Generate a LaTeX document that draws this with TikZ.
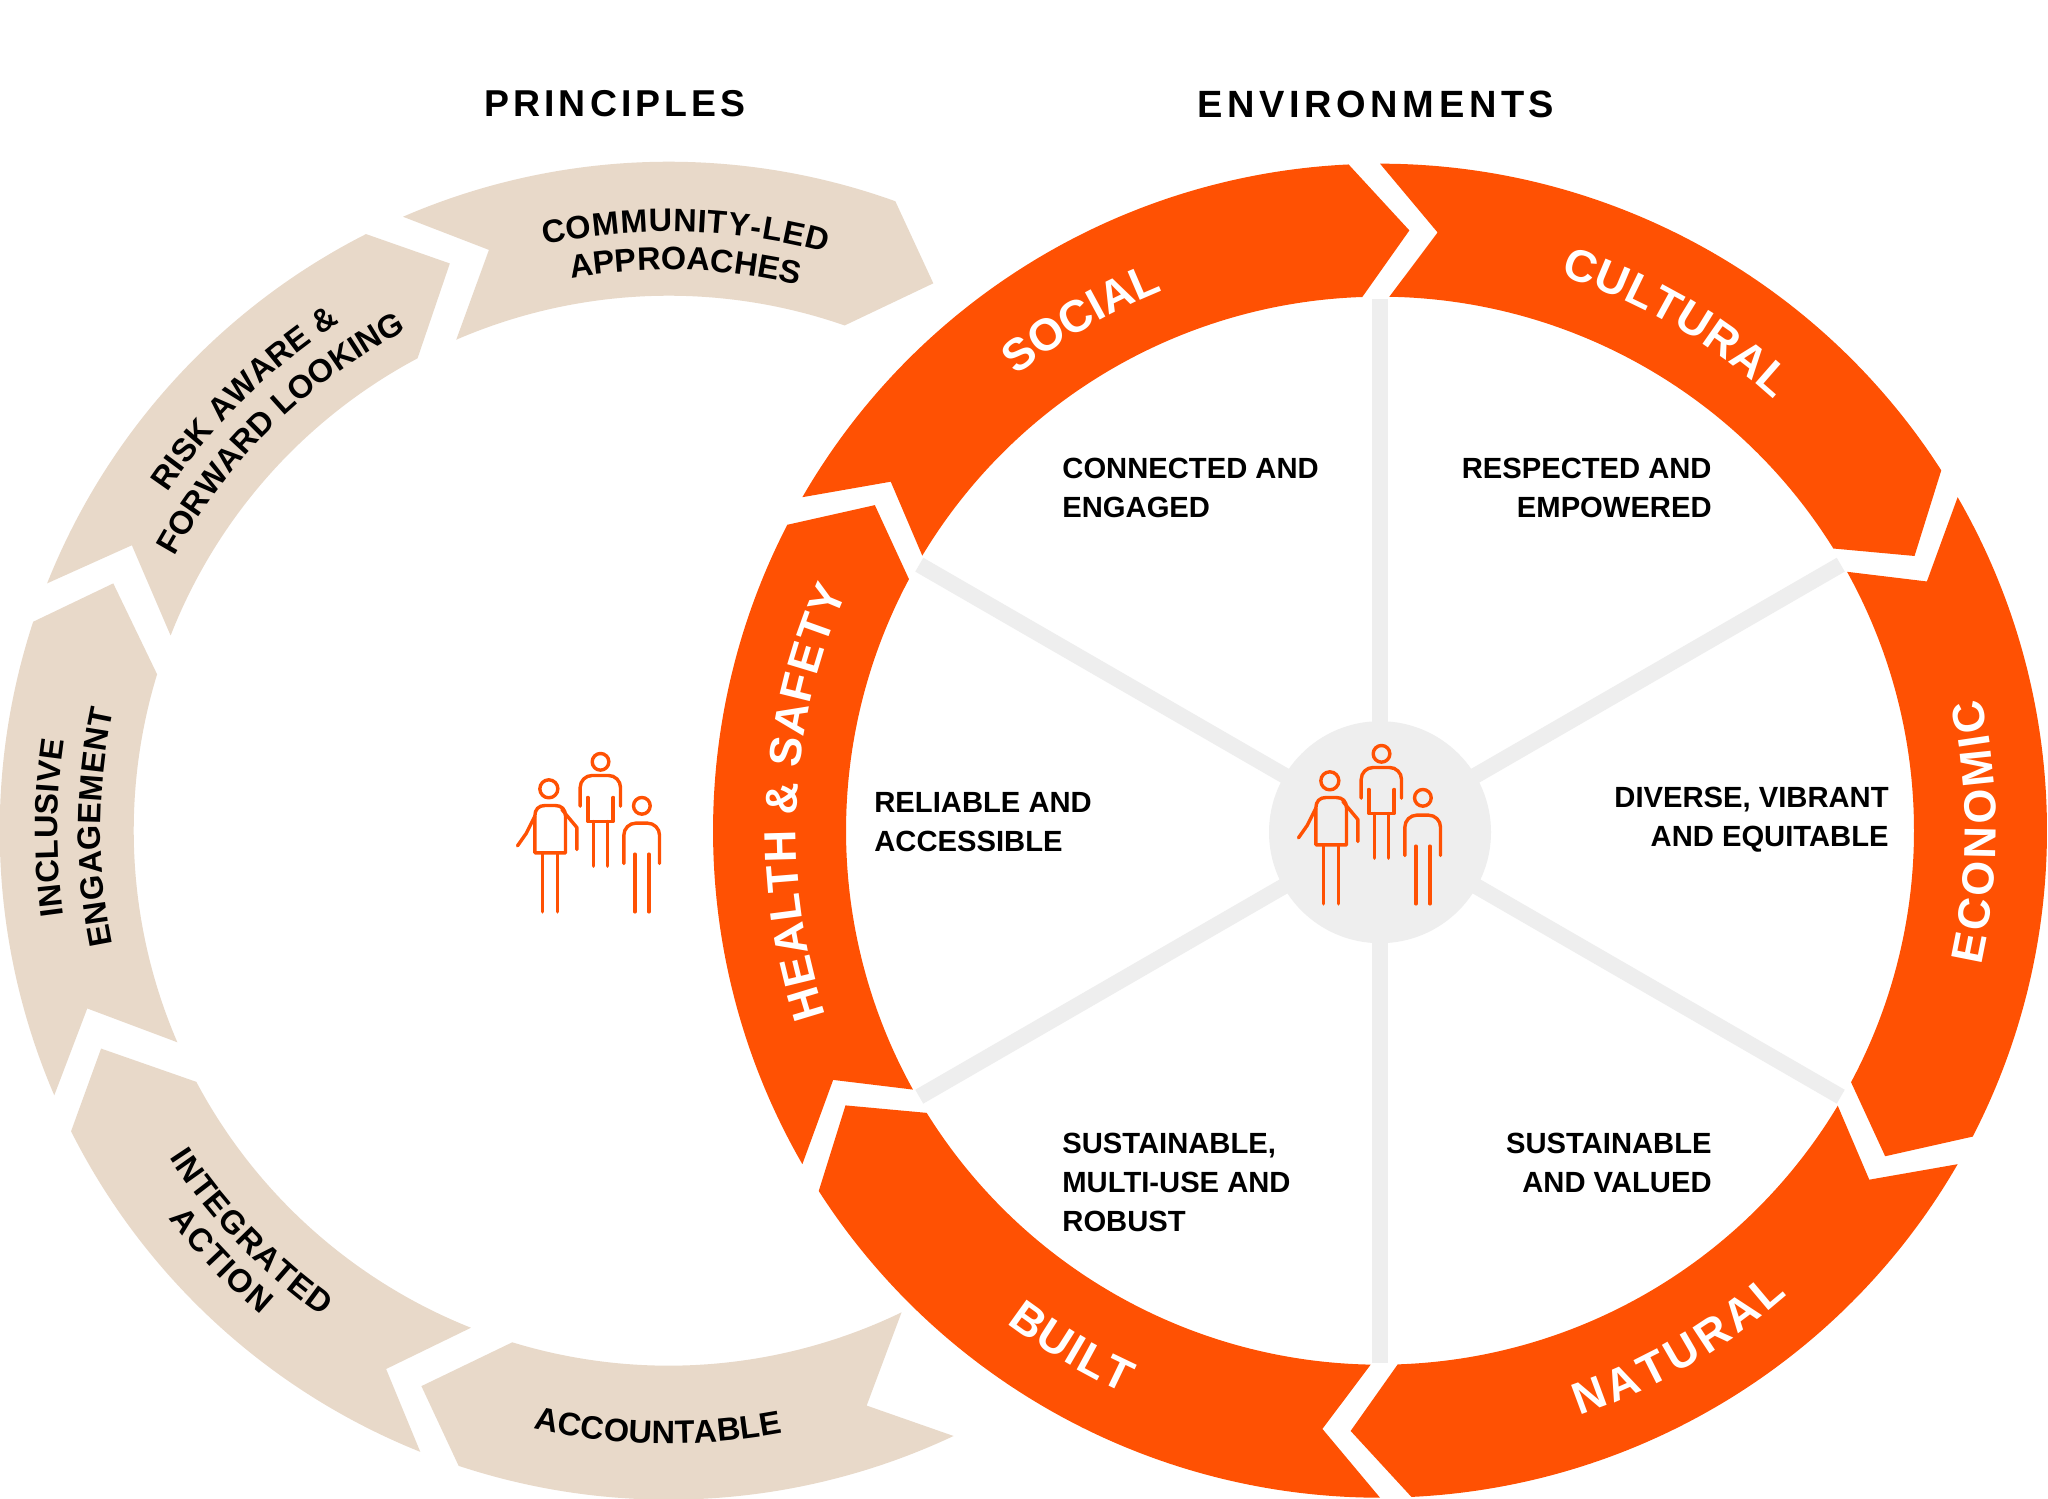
\documentclass[tikz,border=0pt]{standalone}
\usepackage{fontspec}
\setmainfont{Liberation Sans}
\usetikzlibrary{decorations.text}
\definecolor{orng}{HTML}{FF5103}
\definecolor{beige}{HTML}{E8D9C9}
\definecolor{spoke}{HTML}{EEEEEE}
\newcommand{\RO}{669}\newcommand{\RI}{535}\newcommand{\RM}{608}
% ccw-outer, notch, ccw-inner, cw-outer, tip, cw-inner
\newcommand{\segm}[7]{\fill[#1] (#2:\RO) arc[start angle=#2,end angle=#5,radius=\RO] -- (#6:\RM) -- (#7:\RI) arc[start angle=#7,end angle=#4,radius=\RI] -- (#3:\RM) -- cycle;}
\newcommand{\arctext}[5]{\path[decorate,decoration={text along path,text align=fit to path,text={|#4|#5}}] (#2:#1) arc[start angle=#2,end angle=#3,radius=#1];}
\newcommand{\ringfont}{\fontsize{22.5}{22.5}\selectfont\bfseries\color{white}}
\newcommand{\leftfont}{\fontsize{16.2}{16.2}\selectfont\bfseries\color{black}}
\tikzset{
 stroke icon/.style={draw=orng,line width=1.7pt,line cap=round,line join=round},
 inlabel/.style={inner sep=0pt,font=\fontsize{14.6}{19.5}\selectfont\bfseries,text=black},
 heading/.style={inner sep=0pt,font=\fontsize{19}{19}\selectfont\bfseries\addfontfeature{LetterSpace=12},text=black},
 headingb/.style={inner sep=0pt,font=\fontsize{18.7}{18.7}\selectfont\bfseries\addfontfeature{LetterSpace=11},text=black},
 people/.pic={
  \begin{scope}[x=0.1667pt,y=-0.1667pt,shift={(-280,-310)}]
   \draw[stroke icon] (176,176) circle[radius=27];
   \draw[stroke icon] (134,368) -- (134,258) .. controls (134,238) and (145,226) .. (165,226) -- (195,226) .. controls (215,226) and (226,238) .. (226,258) -- (226,368) -- cycle;
   \draw[stroke icon] (157,368) -- (157,545) (202,368) -- (202,545);
   \draw[stroke icon] (134,258) -- (108,310) -- (82,347);
   \draw[stroke icon] (215,238) -- (260,292) -- (260,358);
   \draw[stroke icon] (331,95) circle[radius=25];
   \draw[stroke icon,rounded corners=6pt] (270,228) -- (270,136) -- (391,136) -- (391,228);
   \draw[stroke icon] (293,202) -- (293,274) -- (369,274) -- (369,202);
   \draw[stroke icon] (310,274) -- (310,408) (352,274) -- (352,408);
   \draw[stroke icon] (455,227) circle[radius=25];
   \draw[stroke icon,rounded corners=6pt] (401,400) -- (401,279) -- (508,279) -- (508,400);
   \draw[stroke icon] (434,372) -- (434,545) (476,372) -- (476,545);
  \end{scope}
 }
}
\begin{document}
\begin{tikzpicture}[x=0.5pt,y=0.5pt]
\useasboundingbox (0,0) rectangle (2048,1498);
\fill[white] (0,0) rectangle (2048,1498);
\node[headingb] (principles) at (615,1394) {PRINCIPLES};
\node[heading] (environments) at (1376,1394) {ENVIRONMENTS};
% left ring
\begin{scope}[shift={(668.7,667.3)}]
 \segm{beige}{113.4}{107.2}{113.4}{70.2}{64.2}{70.8}
 \segm{beige}{158.3}{152}{158.6}{116.9}{111.1}{118}
 \segm{beige}{203.3}{197}{203.3}{161.8}{156}{163}
 \segm{beige}{248.2}{242.3}{248.3}{206.7}{201}{208}
 \segm{beige}{295.2}{289}{295.8}{251.7}{246}{253}
 \arctext{599}{102}{74.8}{\leftfont}{COMMUNITY-LED}
 \arctext{561}{100}{76.6}{\leftfont}{APPROACHES}
 \arctext{605}{146}{122.9}{\leftfont}{RISK AWARE {\&}}
 \arctext{565}{151}{117.6}{\leftfont}{FORWARD LOOKING}
 \arctext{611}{188}{171.5}{\leftfont}{INCLUSIVE}
 \arctext{568}{191.6}{167.7}{\leftfont}{ENGAGEMENT}
 \arctext{597}{213.2}{234.5}{\leftfont}{INTEGRATED}
 \arctext{633}{217.8}{229.9}{\leftfont}{ACTION}
 \arctext{613}{257.3}{280.2}{\leftfont}{ACCOUNTABLE}
\end{scope}
\pic (iconleft) at (583.5,664.5) {people};
% right ring
\begin{scope}[shift={(1380,667.3)}]
 \foreach \a in {90,30,-30,-90,-150,150} {
  \draw[spoke,line width=8pt] (\a:100) -- (\a:532);
 }
 \fill[spoke] (0,-1.5) circle[radius=111];
 \foreach \a in {0,-60,-120,-180,-240,-300} {
  \begin{scope}[rotate=\a]
   \renewcommand{\RO}{667}\renewcommand{\RI}{534}\renewcommand{\RM}{601}
   \segm{orng}{90}{84.5}{89}{32.7}{27.2}{31.9}
  \end{scope}
 }
 \arctext{582}{128.6}{112}{\ringfont}{SOCIAL}
 \arctext{584}{72}{47.5}{\ringfont}{CULTURAL}
 \arctext{616}{-12.6}{12.4}{\ringfont}{ECONOMIC}
 \arctext{618}{288.8}{311.3}{\ringfont}{NATURAL}
 \arctext{618}{232.8}{245.6}{\ringfont}{BUILT}
 \arctext{584}{198.4}{155.9}{\ringfont}{HEALTH {\&} SAFETY}
\end{scope}
\pic (iconright) at (1364.5,672.5) {people};
% inner labels
\node[inlabel,anchor=north west,align=left] (connected) at (1062,1040) {CONNECTED AND\\ENGAGED};
\node[inlabel,anchor=north east,align=right] (respected) at (1712,1040) {RESPECTED AND\\EMPOWERED};
\node[inlabel,anchor=north west,align=left] (reliable) at (874,705.5) {RELIABLE AND\\ACCESSIBLE};
\node[inlabel,anchor=north east,align=right] (diverse) at (1889,711.5) {DIVERSE, VIBRANT\\AND EQUITABLE};
\node[inlabel,anchor=north west,align=left] (multiuse) at (1062,365) {SUSTAINABLE,\\MULTI-USE AND\\ROBUST};
\node[inlabel,anchor=north east,align=right] (valued) at (1712,365) {SUSTAINABLE\\AND VALUED};
\end{tikzpicture}
\end{document}
